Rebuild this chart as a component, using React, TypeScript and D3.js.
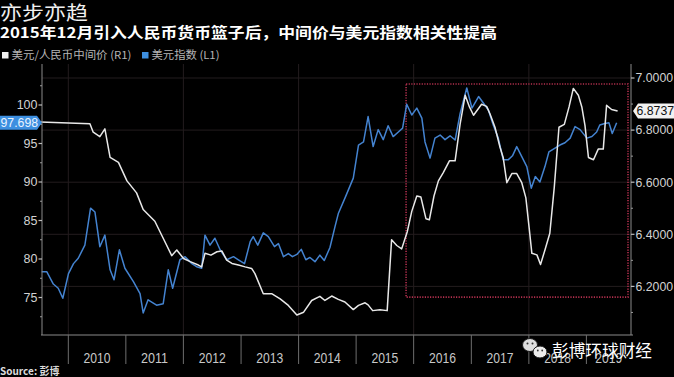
import React from "react";
import * as d3 from "d3";

const W = 674;
const H = 377;

const titleText = "亦步亦趋";
const subtitleText = "2015年12月引入人民币货币篮子后，中间价与美元指数相关性提高";
const legendCny = "美元/人民币中间价 (R1)";
const legendDxy = "美元指数 (L1)";
const sourceText = "Source: 彭博";
const watermarkText = "彭博环球财经";

const years = [2010, 2011, 2012, 2013, 2014, 2015, 2016, 2017, 2018, 2019];
const gridYears = [2010, 2012, 2014, 2016, 2018];
const leftTicks = [75, 80, 85, 90, 95, 100];
const leftMinorTicks = [72.5, 77.5, 82.5, 87.5, 92.5, 97.5, 102.5];
const rightTicks = [6.2, 6.4, 6.6, 6.8, 7.0];
const rightMinorTicks = [6.1, 6.3, 6.5, 6.7, 6.9];

// highlight box (dates, right-axis values)
const highlightDates = ["2015-11-14", "2019-09-22"];
const highlightValues = [6.977, 6.159];

// US Dollar Index (left axis)
const dxySeries: [string, number][] = [
  ["2009-07-16", 78.35], ["2009-08-17", 78.35], ["2009-09-28", 76.75], ["2009-10-29", 76.2],
  ["2009-11-27", 74.9], ["2010-01-02", 78.1], ["2010-02-03", 79.4], ["2010-03-05", 80.1],
  ["2010-04-16", 81.8], ["2010-05-22", 86.6], ["2010-06-19", 86.1], ["2010-07-20", 81.6],
  ["2010-08-21", 83.1], ["2010-09-23", 78.6], ["2010-10-18", 77.3], ["2010-11-21", 81.2],
  ["2010-12-26", 78.8], ["2011-02-18", 77.05], ["2011-04-01", 75.5], ["2011-04-21", 73.0],
  ["2011-05-22", 74.7], ["2011-07-15", 74.0], ["2011-08-26", 74.2], ["2011-09-27", 78.6],
  ["2011-10-25", 76.2], ["2011-12-10", 79.9], ["2012-01-12", 80.3], ["2012-02-24", 79.4],
  ["2012-03-25", 79.0], ["2012-04-26", 78.8], ["2012-05-17", 83.1], ["2012-06-18", 81.8],
  ["2012-07-19", 82.7], ["2012-08-21", 81.2], ["2012-10-02", 79.9], ["2012-11-14", 80.3],
  ["2012-12-15", 79.9], ["2013-01-23", 79.4], ["2013-02-28", 82.25], ["2013-03-19", 82.9],
  ["2013-04-17", 81.8], ["2013-05-22", 83.4], ["2013-06-23", 82.9], ["2013-08-01", 81.6],
  ["2013-08-26", 82.0], ["2013-09-27", 80.3], ["2013-10-28", 80.7], ["2013-11-23", 80.3],
  ["2013-12-21", 80.6], ["2014-01-18", 81.25], ["2014-02-16", 79.9], ["2014-03-14", 80.2],
  ["2014-04-15", 79.65], ["2014-05-16", 80.5], ["2014-06-13", 79.8], ["2014-07-19", 81.5],
  ["2014-08-20", 84.2], ["2014-09-10", 85.9], ["2014-10-22", 87.9], ["2014-12-14", 90.5],
  ["2015-01-16", 94.8], ["2015-02-17", 95.2], ["2015-03-18", 98.5], ["2015-04-19", 94.6],
  ["2015-05-21", 96.8], ["2015-06-22", 95.5], ["2015-07-23", 97.3], ["2015-08-24", 95.9],
  ["2015-09-26", 96.5], ["2015-10-23", 97.0], ["2015-11-18", 100.1], ["2015-12-20", 98.7],
  ["2016-01-21", 99.6], ["2016-02-22", 98.3], ["2016-03-13", 95.2], ["2016-04-14", 93.1],
  ["2016-05-15", 95.7], ["2016-06-17", 96.1], ["2016-07-18", 95.5], ["2016-08-19", 96.0],
  ["2016-09-20", 95.45], ["2016-10-22", 98.9], ["2016-12-03", 102.2], ["2017-01-05", 99.6],
  ["2017-02-16", 101.1], ["2017-03-17", 100.3], ["2017-04-19", 99.35], ["2017-05-20", 97.4],
  ["2017-06-21", 95.7], ["2017-07-22", 92.9], ["2017-08-24", 92.9], ["2017-09-19", 93.4],
  ["2017-10-16", 94.6], ["2017-11-17", 93.3], ["2017-12-19", 92.0], ["2018-01-16", 89.2],
  ["2018-02-11", 90.7], ["2018-03-12", 90.0], ["2018-04-13", 92.0], ["2018-05-08", 93.9],
  ["2018-06-16", 94.4], ["2018-07-17", 94.8], ["2018-08-18", 95.1], ["2018-09-20", 95.7],
  ["2018-10-21", 97.2], ["2018-11-22", 96.8], ["2019-01-04", 95.7], ["2019-02-05", 95.9],
  ["2019-03-07", 96.5], ["2019-03-27", 97.4], ["2019-04-28", 97.6], ["2019-05-24", 97.7],
  ["2019-06-14", 96.3], ["2019-07-12", 97.698],
];

// USD/CNY fixing (right axis)
const cnySeries: [string, number][] = [
  ["2009-07-06", 6.831], ["2010-05-18", 6.824], ["2010-06-08", 6.792], ["2010-07-20", 6.775],
  ["2010-08-21", 6.805], ["2010-09-23", 6.695], ["2010-11-15", 6.676], ["2011-01-08", 6.605],
  ["2011-03-10", 6.559], ["2011-04-21", 6.495], ["2011-07-04", 6.45], ["2011-08-26", 6.385],
  ["2011-10-19", 6.318], ["2011-11-20", 6.34], ["2012-01-02", 6.307], ["2012-02-13", 6.295],
  ["2012-04-05", 6.282], ["2012-04-26", 6.275], ["2012-05-17", 6.327], ["2012-06-24", 6.32],
  ["2012-08-01", 6.333], ["2012-09-01", 6.336], ["2012-10-02", 6.301], ["2012-11-04", 6.288],
  ["2012-12-15", 6.282], ["2013-01-27", 6.275], ["2013-03-09", 6.269], ["2013-03-30", 6.249],
  ["2013-05-22", 6.172], ["2013-07-14", 6.172], ["2013-09-06", 6.152], ["2013-10-28", 6.127],
  ["2013-12-21", 6.09], ["2014-02-02", 6.101], ["2014-03-25", 6.146], ["2014-05-16", 6.162],
  ["2014-06-17", 6.146], ["2014-07-30", 6.163], ["2014-09-10", 6.15], ["2014-10-22", 6.14],
  ["2014-12-14", 6.111], ["2015-01-16", 6.127], ["2015-02-27", 6.137], ["2015-03-18", 6.129],
  ["2015-04-16", 6.107], ["2015-06-01", 6.11], ["2015-07-17", 6.107], ["2015-08-14", 6.379],
  ["2015-09-16", 6.357], ["2015-10-17", 6.344], ["2015-11-22", 6.411], ["2015-12-20", 6.488],
  ["2016-01-21", 6.547], ["2016-02-16", 6.543], ["2016-03-19", 6.46], ["2016-04-10", 6.456],
  ["2016-05-09", 6.547], ["2016-06-06", 6.605], ["2016-07-07", 6.637], ["2016-08-15", 6.682],
  ["2016-09-20", 6.682], ["2016-10-22", 6.824], ["2016-11-23", 6.934], ["2016-12-20", 6.889],
  ["2017-01-15", 6.857], ["2017-03-07", 6.899], ["2017-04-08", 6.891], ["2017-04-29", 6.863],
  ["2017-05-31", 6.811], ["2017-07-02", 6.734], ["2017-07-22", 6.695], ["2017-08-14", 6.598],
  ["2017-09-15", 6.633], ["2017-10-16", 6.633], ["2017-11-17", 6.598], ["2017-12-13", 6.54],
  ["2018-01-03", 6.424], ["2018-01-20", 6.327], ["2018-02-21", 6.321], ["2018-03-16", 6.284],
  ["2018-04-13", 6.34], ["2018-05-14", 6.404], ["2018-06-11", 6.579], ["2018-07-11", 6.811],
  ["2018-08-14", 6.822], ["2018-09-13", 6.889], ["2018-10-10", 6.96], ["2018-11-11", 6.934],
  ["2018-12-03", 6.889], ["2018-12-23", 6.818], ["2019-01-14", 6.695], ["2019-02-15", 6.686],
  ["2019-03-17", 6.727], ["2019-04-18", 6.727], ["2019-05-09", 6.895], ["2019-06-10", 6.879],
  ["2019-07-18", 6.8737],
];

const FONT = "'Liberation Sans', Arial, 'Noto Sans CJK SC', sans-serif";
const CJK = "'Noto Sans CJK SC', 'Liberation Sans', sans-serif";

const plotLeft = 42;
const plotRight = 631;
const plotTop = 64;
const plotBottom = 335;

export default function App() {
  const parse = d3.timeParse("%Y-%m-%d");
  const x = d3
    .scaleTime()
    .domain([parse("2009-07-18")!, parse("2019-10-11")!])
    .range([plotLeft, plotRight]);
  const yL = d3.scaleLinear().domain([75, 100]).range([297.5, 105]);
  const yR = d3.scaleLinear().domain([6.2, 7.0]).range([286.4, 78]);

  const lineL = d3
    .line<[string, number]>()
    .x((d) => x(parse(d[0])!))
    .y((d) => yL(d[1]));
  const lineR = d3
    .line<[string, number]>()
    .x((d) => x(parse(d[0])!))
    .y((d) => yR(d[1]));

  const lastDxy = dxySeries[dxySeries.length - 1][1];
  const lastCny = cnySeries[cnySeries.length - 1][1];
  const cyL = yL(lastDxy);
  const cyR = yR(lastCny);

  const hx0 = x(parse(highlightDates[0])!);
  const hx1 = x(parse(highlightDates[1])!);
  const hy0 = yR(highlightValues[0]);
  const hy1 = yR(highlightValues[1]);

  const yearX = (yr: number) => x(new Date(yr, 0, 1));

  return (
    <svg
      width={W}
      height={H}
      style={{ position: "absolute", left: 0, top: 0, background: "#000", display: "block" }}
    >
      <rect x={0} y={0} width={W} height={H} fill="#000" />

      {/* title */}
      <text x={0} y={20} fill="#f0f0f0" fontFamily={CJK} fontSize={19} textLength={88} lengthAdjust="spacingAndGlyphs">
        {titleText}
      </text>
      <text x={0} y={38} fill="#ffffff" fontFamily={CJK} fontSize={14.5} fontWeight="bold" textLength={497} lengthAdjust="spacingAndGlyphs">
        {subtitleText}
      </text>

      {/* legend */}
      <rect x={2} y={52} width={6.5} height={6.5} fill="#f0f0f0" />
      <text x={11.5} y={59} fill="#b5b5b5" fontFamily={CJK} fontSize={11} textLength={120} lengthAdjust="spacingAndGlyphs">
        {legendCny}
      </text>
      <rect x={142} y={52} width={6.5} height={6.5} fill="#3d8fe0" />
      <text x={151.5} y={59} fill="#b5b5b5" fontFamily={CJK} fontSize={11} textLength={68} lengthAdjust="spacingAndGlyphs">
        {legendDxy}
      </text>

      {/* grid */}
      {rightTicks.map((v) => (
        <line key={"gh" + v} x1={plotLeft} x2={plotRight} y1={yR(v)} y2={yR(v)} stroke="#231c1e" strokeWidth={1} />
      ))}
      {gridYears.map((yr) => (
        <line key={"gv" + yr} x1={yearX(yr)} x2={yearX(yr)} y1={plotTop} y2={plotBottom} stroke="#231c1e" strokeWidth={1} />
      ))}

      {/* highlight box */}
      <rect
        x={hx0}
        y={hy0}
        width={hx1 - hx0}
        height={hy1 - hy0}
        fill="none"
        stroke="#b3304e"
        strokeWidth={1.6}
        strokeDasharray="1.2 1.4"
      />

      {/* series */}
      <path d={lineL(dxySeries) ?? ""} fill="none" stroke="#4483d0" strokeWidth={1.5} strokeLinejoin="round" />
      <path d={lineR(cnySeries) ?? ""} fill="none" stroke="#e8e8e8" strokeWidth={1.5} strokeLinejoin="round" />

      {/* axes */}
      <line x1={plotLeft} x2={plotLeft} y1={plotTop} y2={plotBottom} stroke="#8a8a8a" strokeWidth={1} />
      <line x1={plotRight} x2={plotRight} y1={plotTop} y2={plotBottom} stroke="#8a8a8a" strokeWidth={1} />
      <line x1={plotLeft - 1} x2={plotRight + 2} y1={plotBottom} y2={plotBottom} stroke="#8a8a8a" strokeWidth={1} />

      {leftTicks.map((v) => (
        <g key={"lt" + v}>
          <line x1={plotLeft - 3.5} x2={plotLeft} y1={yL(v)} y2={yL(v)} stroke="#bdbdbd" strokeWidth={1.2} />
          <text x={plotLeft - 4.5} y={yL(v) + 4.3} textAnchor="end" fill="#d2d2d2" fontFamily={FONT} fontSize={12.5}>
            {v}
          </text>
        </g>
      ))}
      {leftMinorTicks.map((v) => (
        <line key={"lm" + v} x1={plotLeft - 2} x2={plotLeft} y1={yL(v)} y2={yL(v)} stroke="#9a9a9a" strokeWidth={1} />
      ))}
      {rightTicks.map((v) => (
        <g key={"rt" + v}>
          <line x1={plotRight} x2={plotRight + 3.5} y1={yR(v)} y2={yR(v)} stroke="#bdbdbd" strokeWidth={1.2} />
          <text x={plotRight + 4.5} y={yR(v) + 4.3} fill="#d2d2d2" fontFamily={FONT} fontSize={12.3}>
            {d3.format(".4f")(v)}
          </text>
        </g>
      ))}
      {rightMinorTicks.map((v) => (
        <line key={"rm" + v} x1={plotRight} x2={plotRight + 2} y1={yR(v)} y2={yR(v)} stroke="#9a9a9a" strokeWidth={1} />
      ))}

      {/* year separators + labels */}
      {years.map((yr) => {
        const a = Math.max(yearX(yr), plotLeft);
        const b = Math.min(yearX(yr + 1), plotRight);
        return (
          <g key={"y" + yr}>
            <line x1={yearX(yr)} x2={yearX(yr)} y1={plotBottom} y2={364} stroke="#6e6e6e" strokeWidth={1} />
            <text
              x={(a + b) / 2 - 13.5}
              y={363}
              fill="#c8c8c8"
              fontFamily={FONT}
              fontSize={15}
              textLength={27}
              lengthAdjust="spacingAndGlyphs"
            >
              {yr}
            </text>
          </g>
        );
      })}

      {/* last value tags */}
      <path
        d={`M0,${cyL - 7}L37,${cyL - 7}L42,${cyL}L37,${cyL + 7}L0,${cyL + 7}Z`}
        fill="#3d8fe0"
      />
      <text x={0.5} y={cyL + 4.4} fill="#eaf4ff" fontFamily={FONT} fontSize={12.3}>
        {d3.format(".3f")(lastDxy)}
      </text>
      <path
        d={`M633,${cyR}L638,${cyR - 7.5}L674,${cyR - 7.5}L674,${cyR + 7.5}L638,${cyR + 7.5}Z`}
        fill="#f2f2f2"
      />
      <text x={636.5} y={cyR + 4.4} fill="#111" fontFamily={FONT} fontSize={12.3}>
        {d3.format(".4f")(lastCny)}
      </text>

      {/* source */}
      <text x={0} y={375} fill="#dcdcdc" fontFamily={CJK} fontSize={10} fontWeight="bold">
        {sourceText}
      </text>

      {/* watermark */}
      <g>
        <ellipse cx={530} cy={345} rx={7.5} ry={6.5} fill="#dedede" stroke="#1a1a1a" strokeWidth={1} />
        <circle cx={527.5} cy={343.5} r={1} fill="#333" />
        <circle cx={532.5} cy={343.5} r={1} fill="#333" />
        <ellipse cx={540} cy={352} rx={7} ry={6} fill="#ececec" stroke="#1a1a1a" strokeWidth={1} />
        <circle cx={537.8} cy={350.5} r={0.9} fill="#333" />
        <circle cx={542.2} cy={350.5} r={0.9} fill="#333" />
        <text x={552} y={357} fill="#ffffff" fontFamily={CJK} fontSize={16.5} textLength={100} lengthAdjust="spacingAndGlyphs">
          {watermarkText}
        </text>
      </g>
    </svg>
  );
}
